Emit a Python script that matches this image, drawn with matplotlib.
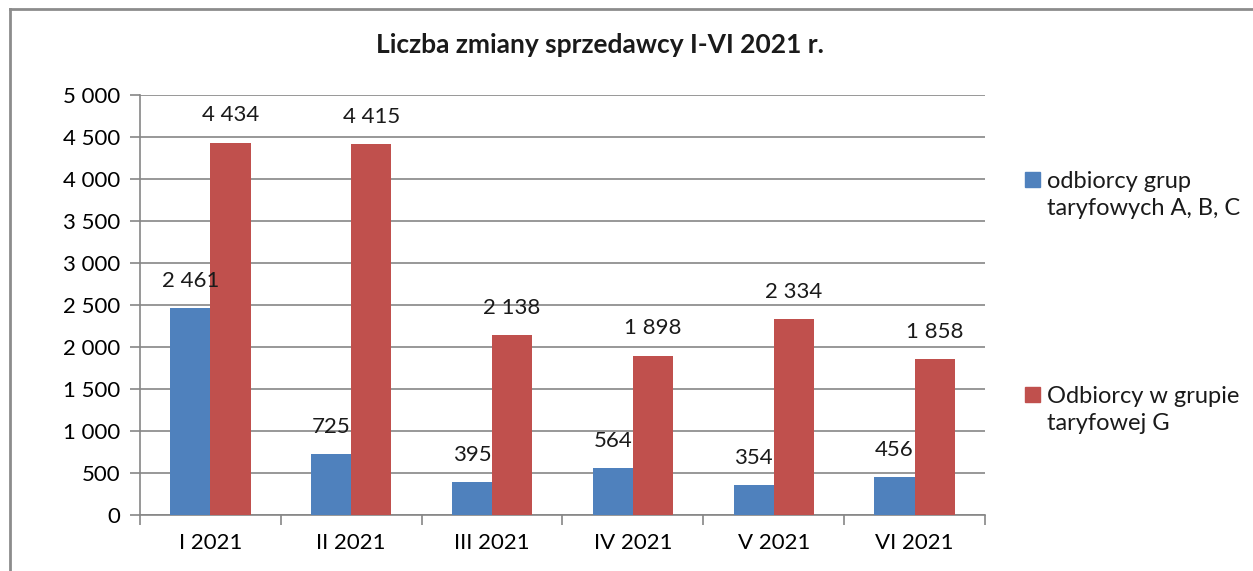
import numpy as np
import matplotlib.pyplot as plt
from matplotlib.ticker import FuncFormatter
from matplotlib.lines import Line2D

plt.rcParams['font.family'] = ['Lato', 'DejaVu Sans']

months = ['I 2021', 'II 2021', 'III 2021', 'IV 2021', 'V 2021', 'VI 2021']
abc = [2461, 725, 395, 564, 354, 456]
grupa_g = [4434, 4415, 2138, 1898, 2334, 1858]
names = ['odbiorcy grup\ntaryfowych A, B, C', 'Odbiorcy w grupie\ntaryfowej G']
blue = '#4F81BD'
red = '#C0504D'
grey = '#868686'


def fmt(v):
    return '{:,}'.format(int(v)).replace(',', ' ')


fig = plt.figure(figsize=(12.53, 5.71), dpi=100)
ax = fig.add_axes([140 / 1253, 1 - 515 / 571, 845 / 1253, 420 / 571])

x = np.arange(len(months))
w = 0.285
b1 = ax.bar(x - w / 2, abc, w, color=blue, zorder=3)
b2 = ax.bar(x + w / 2, grupa_g, w, color=red, zorder=3)

# value labels above bars
for bars in (b1, b2):
    for r in bars:
        h = r.get_height()
        ax.annotate(fmt(h), (r.get_x() + r.get_width() / 2, h),
                    xytext=(0, 19.5), textcoords='offset points',
                    ha='center', va='center', fontsize=16, color='#1a1a1a')

ax.set_xlim(-0.5, len(months) - 0.5)
ax.set_ylim(0, 5000)
ax.set_yticks(np.arange(0, 5001, 500))
ax.yaxis.set_major_formatter(FuncFormatter(lambda v, p: fmt(v)))
ax.yaxis.grid(True, color=grey, linewidth=1.2, zorder=0)

ax.set_xticks(x)
ax.set_xticklabels(months)
ax.set_xticks(np.arange(-0.5, len(months)), minor=True)
ax.tick_params(axis='x', which='major', length=0, pad=13, labelsize=16)
ax.tick_params(axis='x', which='minor', length=7, color=grey, width=1.2)
ax.tick_params(axis='y', length=7, color=grey, width=1.2, pad=7, labelsize=16)

for s in ('top', 'right'):
    ax.spines[s].set_visible(False)
for s in ('left', 'bottom'):
    ax.spines[s].set_color(grey)
    ax.spines[s].set_linewidth(1.2)

fig.text(600 / 1253, 1 - 45 / 571, 'Liczba zmiany sprzedawcy I-VI 2021 r.',
         ha='center', va='center', fontsize=19, fontweight='bold', color='#1a1a1a')

# legend entries
for ypix, col, label in ((195, blue, names[0]), (410, red, names[1])):
    fig.patches.append(plt.Rectangle((1025 / 1253, 1 - (ypix - 8) / 571), 15 / 1253, 15 / 571,
                                     transform=fig.transFigure, color=col, figure=fig))
    fig.text(1047 / 1253, 1 - ypix / 571, label, ha='left', va='center',
             fontsize=17, linespacing=1.3, color='#1a1a1a')

# outer frame
fig.add_artist(Line2D([10 / 1253, 1], [1 - 9 / 571, 1 - 9 / 571], transform=fig.transFigure,
                      color='#8c8c8c', linewidth=2))
fig.add_artist(Line2D([10 / 1253, 10 / 1253], [0, 1 - 9 / 571], transform=fig.transFigure,
                      color='#8c8c8c', linewidth=2))

fig.savefig('out.png', dpi=100)
